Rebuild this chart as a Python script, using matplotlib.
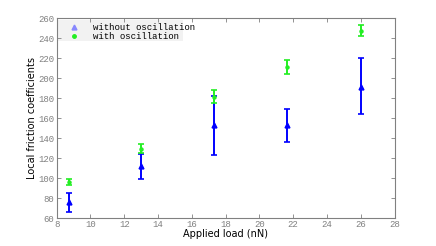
import matplotlib
matplotlib.use('Agg')
import matplotlib.pyplot as plt
from matplotlib.lines import Line2D
from matplotlib.patches import Rectangle

load = [8.7, 13.0, 17.3, 21.65, 26.0]

# without oscillation (blue)
wo_mean = [76, 112, 153, 153, 191]
wo_lo   = [66, 99, 123, 136, 164]
wo_hi   = [85, 124, 182, 169, 220]

# with oscillation (green)
w_mean = [96, 129, 181, 211, 247]
w_lo   = [93, 125, 175, 204, 242]
w_hi   = [99, 134, 188, 218, 253]

blue = "#0000ff"
green = "#22ee22"
gray = "#808080"

fig = plt.figure(figsize=(4.36, 2.46), dpi=100)
ax = fig.add_axes([0.130, 0.1126, 0.775, 0.813])

yerr_wo = [[m - l for m, l in zip(wo_mean, wo_lo)], [h - m for m, h in zip(wo_mean, wo_hi)]]
yerr_w = [[m - l for m, l in zip(w_mean, w_lo)], [h - m for m, h in zip(w_mean, w_hi)]]

ax.errorbar(load, wo_mean, yerr=yerr_wo, fmt="^", color=blue, ms=3.5,
            elinewidth=1.4, capsize=2.2, capthick=1.2)
ax.errorbar(load, w_mean, yerr=yerr_w, fmt="o", color=green, ms=2.2,
            elinewidth=1.4, capsize=2.2, capthick=1.2)

ax.set_xlim(8, 28)
ax.set_ylim(60, 260)
ax.set_xticks(range(8, 29, 2))
ax.set_yticks(range(60, 261, 20))

ax.tick_params(direction="in", top=True, right=True, length=3, width=0.6,
               colors=gray, labelsize=6.5, pad=1.5)
for lab in ax.get_xticklabels() + ax.get_yticklabels():
    lab.set_family("Liberation Mono")
for s in ax.spines.values():
    s.set_color(gray)
    s.set_linewidth(0.8)

ax.set_xlabel("Applied load (nN)", fontsize=7, labelpad=0)
ax.set_ylabel("Local friction coefficients", fontsize=7, labelpad=1)

# legend background (MATLAB style, text runs past it)
ax.add_patch(Rectangle((0.004, 0.887), 0.37, 0.105, transform=ax.transAxes,
                       facecolor="#f2f2f2", edgecolor="none", zorder=1))

handles = [Line2D([], [], ls="", marker="^", color="#8888ff", ms=3.5),
           Line2D([], [], ls="", marker="o", color=green, ms=2.5)]
leg = ax.legend(handles, ["without oscillation", "with oscillation"],
                loc="upper left", bbox_to_anchor=(0.01, 1.0),
                prop={"family": "Liberation Mono", "size": 6.5},
                frameon=False, borderaxespad=0.2, handletextpad=1.2,
                labelspacing=0.05, borderpad=0.3)

fig.savefig("out.png", dpi=100)
